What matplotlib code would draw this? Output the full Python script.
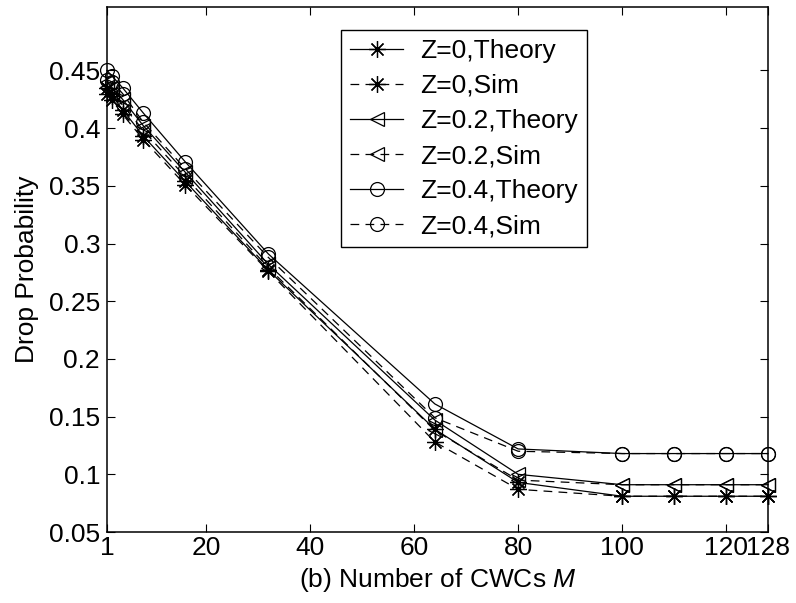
import matplotlib
matplotlib.use("Agg")
import matplotlib.pyplot as plt

# number of CWCs
M = [1, 2, 4, 8, 16, 32, 64, 80, 100, 110, 120, 128]

# drop probability
z0_theory   = [0.435, 0.428, 0.416, 0.393, 0.354, 0.277, 0.139, 0.093, 0.081, 0.081, 0.081, 0.081]
z0_sim      = [0.430, 0.424, 0.412, 0.390, 0.351, 0.276, 0.128, 0.087, 0.081, 0.081, 0.081, 0.081]
z02_theory  = [0.440, 0.435, 0.425, 0.402, 0.362, 0.282, 0.147, 0.100, 0.091, 0.091, 0.091, 0.091]
z02_sim     = [0.436, 0.430, 0.420, 0.398, 0.358, 0.279, 0.138, 0.095, 0.091, 0.091, 0.091, 0.091]
z04_theory  = [0.450, 0.445, 0.435, 0.413, 0.371, 0.291, 0.161, 0.122, 0.118, 0.118, 0.118, 0.118]
z04_sim     = [0.442, 0.440, 0.430, 0.405, 0.365, 0.288, 0.149, 0.120, 0.118, 0.118, 0.118, 0.118]

labels = ['Z=0,Theory', 'Z=0,Sim', 'Z=0.2,Theory', 'Z=0.2,Sim', 'Z=0.4,Theory', 'Z=0.4,Sim']
xticks = [1, 20, 40, 60, 80, 100, 120, 128]
yticks = [0.05, 0.1, 0.15, 0.2, 0.25, 0.3, 0.35, 0.4, 0.45]

plt.rcParams['font.family'] = ['Liberation Sans', 'DejaVu Sans']
plt.rcParams['mathtext.fontset'] = 'custom'
plt.rcParams['mathtext.it'] = 'Liberation Sans:italic'
fs = 19

fig = plt.figure(figsize=(7.96, 6.03), dpi=100)
ax = fig.add_axes([0.1344, 0.1177, 0.8304, 0.8707])

lw = 0.9
dash = (0, (7, 5))
star = (8, 2, 0)   # matlab-like asterisk
series = [
    (z0_theory, star, '-'), (z0_sim, star, dash),
    (z02_theory, '<', '-'), (z02_sim, '<', dash),
    (z04_theory, 'o', '-'), (z04_sim, 'o', dash),
]
for (y, mk, ls), lab in zip(series, labels):
    ms = 12 if mk == star else 10
    ax.plot(M, y, linestyle=ls, marker=mk, color='black', lw=lw,
            markersize=ms, markerfacecolor='none', markeredgecolor='black',
            markeredgewidth=0.9, label=lab, clip_on=False)

ax.set_xlim(1, 128)
ax.set_ylim(0.05, 0.505)
ax.set_xticks(xticks)
ax.set_xticklabels([str(t) for t in xticks], fontsize=fs)
ax.set_yticks(yticks)
ax.set_yticklabels(['%g' % t for t in yticks], fontsize=fs)
ax.tick_params(direction='in', top=True, right=True, length=6, width=0.8)
ax.tick_params(axis='x', pad=3)
ax.tick_params(axis='y', pad=5)
for sp in ax.spines.values():
    sp.set_linewidth(1.1)

ax.set_xlabel('(b) Number of CWCs $M$', fontsize=fs, labelpad=4)
ax.set_ylabel('Drop Probability', fontsize=fs, labelpad=7)

leg = ax.legend(loc='upper left', bbox_to_anchor=(0.354, 0.957), fontsize=fs,
                frameon=True, fancybox=False, edgecolor='black', framealpha=1,
                handlelength=2.0, handletextpad=0.65, labelspacing=0.42,
                borderpad=0.35, borderaxespad=0)
leg.get_frame().set_linewidth(1.0)

fig.savefig('out.png', dpi=100)
